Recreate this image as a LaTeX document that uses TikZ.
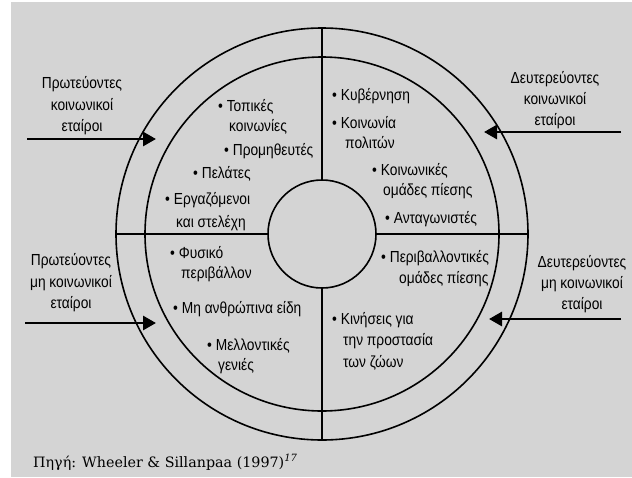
\documentclass[tikz,border=0pt]{standalone}
\usepackage{fontspec}
\setmainfont[FakeStretch=0.86]{Liberation Sans}
\newfontfamily\srcfont{DejaVu Serif}
\usetikzlibrary{arrows.meta}
\definecolor{bggray}{RGB}{212,212,212}
\begin{document}
\begin{tikzpicture}[x=1pt,y=-1pt,
  ring/.style={line width=1.6pt},
  item/.style={anchor=base west,inner sep=0pt,font=\fontsize{16}{19}\selectfont},
  lbl/.style={anchor=base,inner sep=0pt,font=\fontsize{16}{19}\selectfont},
  inarrow/.style={line width=2.8pt,-{Triangle[length=13pt,width=14pt]}}]
\useasboundingbox (0,0) rectangle (632,477);
\fill[bggray] (11,2) rectangle (632,477);
\coordinate (c) at (322,234);
% rings
\draw[ring] (c) circle[radius=206pt];
\draw[ring] (c) circle[radius=177pt];
\draw[ring] (c) circle[radius=54pt];
\draw[ring] (322,28) -- (322,180);
\draw[ring] (322,288) -- (322,440);
\draw[ring] (116,234) -- (268,234);
\draw[ring] (376,234) -- (528,234);
% top-left items
\node[item] (tl1) at (218,111) {\textbullet\ Τοπικές};
\node[item] (tl1b) at (229,131) {κοινωνίες};
\node[item] (tl2) at (224,155) {\textbullet\ Προμηθευτές};
\node[item] (tl3) at (193,178) {\textbullet\ Πελάτες};
\node[item] (tl4) at (165,204) {\textbullet\ Εργαζόμενοι};
\node[item] (tl4b) at (176,227) {και στελέχη};
% top-right items
\node[item] (tr1) at (332,100) {\textbullet\ Κυβέρνηση};
\node[item] (tr2) at (332,128) {\textbullet\ Κοινωνία};
\node[item] (tr2b) at (345,148) {πολιτών};
\node[item] (tr3) at (372,175) {\textbullet\ Κοινωνικές};
\node[item] (tr3b) at (383,195) {ομάδες πίεσης};
\node[item] (tr4) at (385,223) {\textbullet\ Ανταγωνιστές};
% bottom-left items
\node[item] (bl1) at (170,258) {\textbullet\ Φυσικό};
\node[item] (bl1b) at (181,278) {περιβάλλον};
\node[item] (bl2) at (173,313) {\textbullet\ Μη ανθρώπινα είδη};
\node[item] (bl3) at (207,350) {\textbullet\ Μελλοντικές};
\node[item] (bl3b) at (218,370) {γενιές};
% bottom-right items
\node[item] (br1) at (381,262) {\textbullet\ Περιβαλλοντικές};
\node[item] (br1b) at (399,283) {ομάδες πίεσης};
\node[item] (br2) at (332,324) {\textbullet\ Κινήσεις για};
\node[item] (br2b) at (343,345) {την προστασία};
\node[item] (br2c) at (343,367) {των ζώων};
% outer labels
\node[lbl] (l1a) at (82,88) {Πρωτεύοντες};
\node[lbl] (l1b) at (82,110) {κοινωνικοί};
\node[lbl] (l1c) at (82,131) {εταίροι};
\node[lbl] (r1a) at (555,83) {Δευτερεύοντες};
\node[lbl] (r1b) at (555,104) {κοινωνικοί};
\node[lbl] (r1c) at (555,125) {εταίροι};
\node[lbl] (l2a) at (71,265) {Πρωτεύοντες};
\node[lbl] (l2b) at (71,287) {μη κοινωνικοί};
\node[lbl] (l2c) at (71,308) {εταίροι};
\node[lbl] (r2a) at (582,267) {Δευτερεύοντες};
\node[lbl] (r2b) at (582,288) {μη κοινωνικοί};
\node[lbl] (r2c) at (582,309) {εταίροι};
% arrows
\coordinate (a1s) at (27,139);  \coordinate (a1e) at (156,139);
\coordinate (a2s) at (621,132); \coordinate (a2e) at (484,132);
\coordinate (a3s) at (25,323);  \coordinate (a3e) at (156,323);
\coordinate (a4s) at (621,319); \coordinate (a4e) at (489,319);
\draw[inarrow] (a1s) -- (a1e);
\draw[inarrow] (a2s) -- (a2e);
\draw[inarrow] (a3s) -- (a3e);
\draw[inarrow] (a4s) -- (a4e);
% source
\node[anchor=base west,inner sep=0pt,font=\srcfont\fontsize{14.3}{17}\selectfont] (src) at (33,467)
  {Πηγή: Wheeler \& Sillanpaa (1997)\textsuperscript{\itshape 17}};
\end{tikzpicture}
\end{document}
